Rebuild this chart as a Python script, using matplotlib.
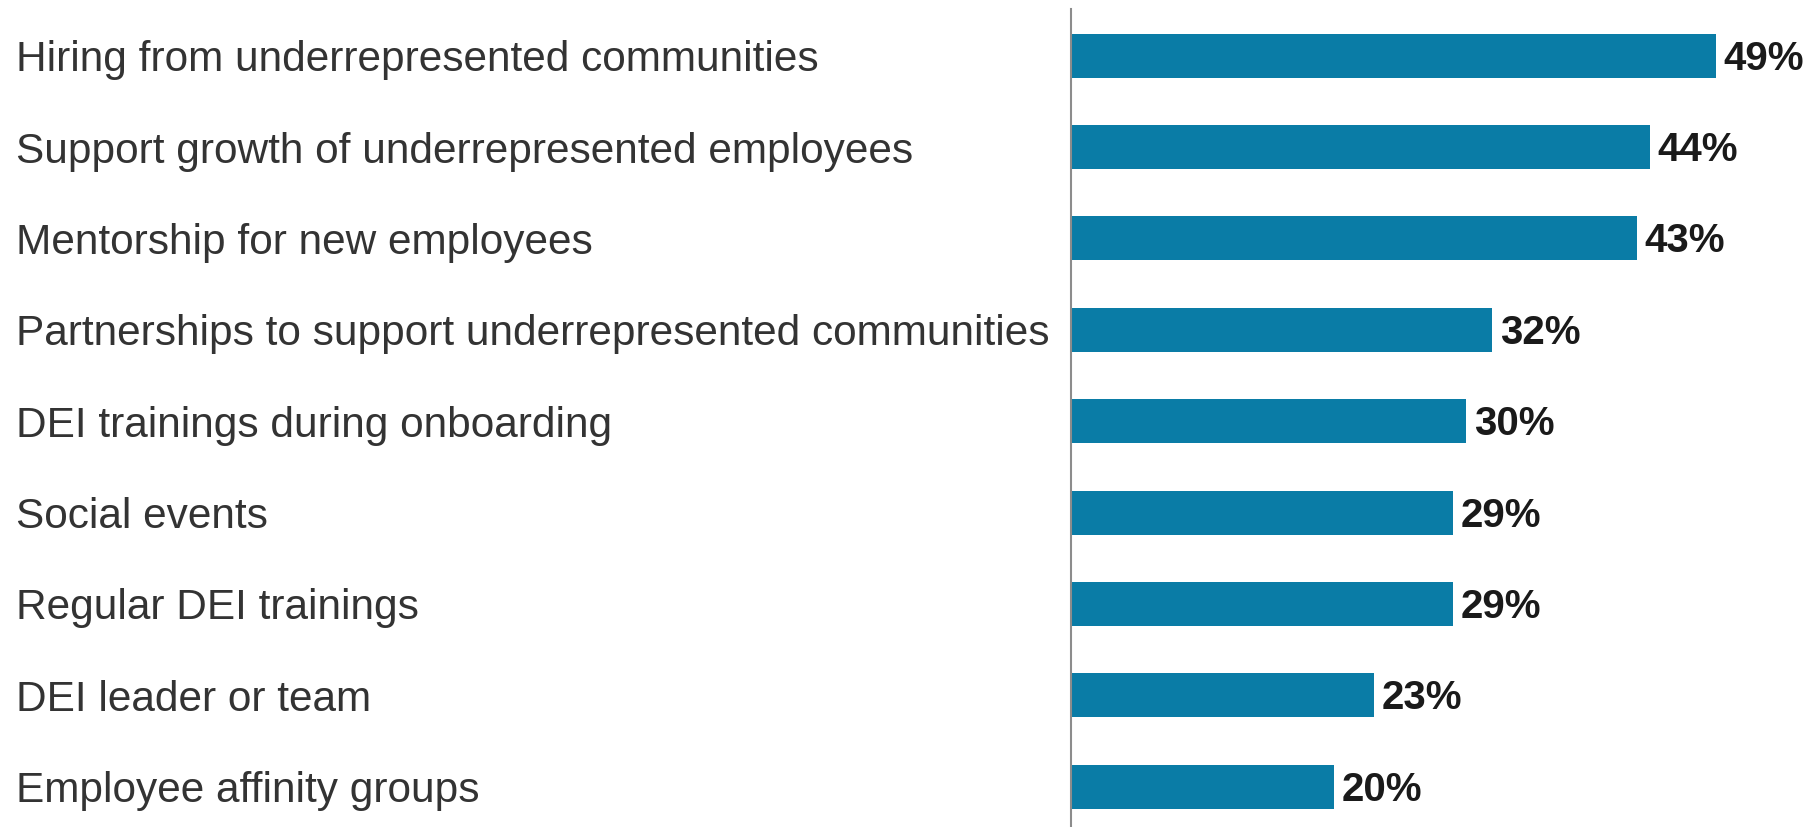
import matplotlib.pyplot as plt
import matplotlib.transforms as mtransforms

categories = [
    "Hiring from underrepresented communities",
    "Support growth of underrepresented employees",
    "Mentorship for new employees",
    "Partnerships to support underrepresented communities",
    "DEI trainings during onboarding",
    "Social events",
    "Regular DEI trainings",
    "DEI leader or team",
    "Employee affinity groups",
]
values = [49, 44, 43, 32, 30, 29, 29, 23, 20]

bar_color = "#0a7ca6"

fig = plt.figure(figsize=(18.13, 8.27), dpi=100)
ax = fig.add_axes([1071 / 1813, 0.0, 1 - 1071 / 1813, 1 - 9 / 827])

pos = list(range(len(categories)))
ax.barh(pos, values, height=0.48, color=bar_color)
ax.set_xlim(0, 56.4)
ax.set_ylim(8.44, -0.51)

for s in ["top", "right", "bottom"]:
    ax.spines[s].set_visible(False)
ax.spines["left"].set_color("#8c8c8c")
ax.spines["left"].set_linewidth(1.5)
ax.set_xticks([])
ax.set_yticks([])

# category names sit at the left edge of the figure, caps centred on the bar
trans = mtransforms.blended_transform_factory(fig.transFigure, ax.transData)
for p, name in zip(pos, categories):
    ax.annotate(name, (16 / 1813, p), xycoords=trans, xytext=(0, -15.5),
                textcoords="offset pixels", ha="left", va="baseline",
                fontsize=30.5, color="#333333", family="Liberation Sans")

for p, v in zip(pos, values):
    ax.annotate(f"{v}%", (v, p), xytext=(8, -14), textcoords="offset pixels",
                ha="left", va="baseline", fontsize=29, fontweight="bold",
                color="#1a1a1a", family="Liberation Sans")

fig.savefig("out.png", dpi=100)
